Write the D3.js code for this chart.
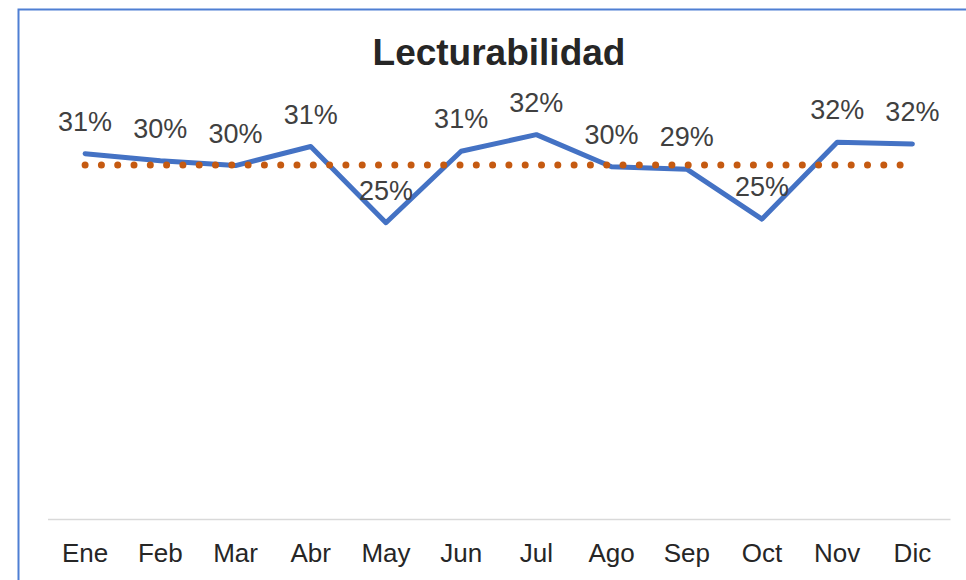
<!DOCTYPE html>
<html lang="es">
<head>
<meta charset="utf-8">
<title>Lecturabilidad</title>
<script src="https://cdn.jsdelivr.net/npm/d3@7"></script>
<style>
    html, body { margin: 0; padding: 0; background: #fff; }
    #chart { width: 966px; height: 580px; overflow: hidden; }
    text { font-family: Arial, "Liberation Sans", sans-serif; }
</style>
</head>
<body>
<div id="chart"></div>
<script>
// Chart data
const months = ['Ene', 'Feb', 'Mar', 'Abr', 'May', 'Jun', 'Jul', 'Ago', 'Sep', 'Oct', 'Nov', 'Dic'];
const readability = [0.307, 0.301, 0.297, 0.313, 0.249, 0.309, 0.323, 0.296, 0.294, 0.252, 0.3165, 0.3152];
const average = [0.2975, 0.2975, 0.2975, 0.2975, 0.2975, 0.2975, 0.2975, 0.2975, 0.2975, 0.2975, 0.2975, 0.2975];
const yDomain = [0, 0.35];

const width = 966;
const height = 580;
const margin = { top: 102.5, right: 16, bottom: 61, left: 47.5 };

const svg = d3.select('#chart')
    .append('svg')
    .attr('width', width)
    .attr('height', height)
    .attr('role', 'img')
    .attr('aria-label', 'Lecturabilidad');

// outer chart frame (only top and left edges visible in the crop)
svg.append('rect')
    .attr('x', 18.5)
    .attr('y', 9.5)
    .attr('width', 980)
    .attr('height', 620)
    .attr('fill', '#fff')
    .attr('stroke', '#4f7fd3')
    .attr('stroke-width', 2);

svg.append('text')
    .attr('x', 499)
    .attr('y', 65)
    .attr('text-anchor', 'middle')
    .attr('font-size', 37)
    .attr('font-weight', 'bold')
    .attr('fill', '#262626')
    .text('Lecturabilidad');

const x = d3.scaleBand()
    .domain(months)
    .range([margin.left, width - margin.right])
    .padding(0);

const y = d3.scaleLinear()
    .domain(yDomain)
    .range([height - margin.bottom, margin.top]);

const cx = (d, i) => x(months[i]) + x.bandwidth() / 2;

// category axis
const xAxis = svg.append('g')
    .attr('transform', `translate(0,${y(0)})`)
    .call(d3.axisBottom(x).tickSize(0).tickPadding(0));

xAxis.select('.domain')
    .attr('stroke', '#d9d9d9')
    .attr('stroke-width', 1.5);

xAxis.selectAll('text')
    .attr('dy', null)
    .attr('y', 43)
    .attr('font-size', 26)
    .attr('font-family', 'Arial, "Liberation Sans", sans-serif')
    .attr('fill', '#262626');

const line = d3.line()
    .x(cx)
    .y(d => y(d));

svg.append('path')
    .datum(readability)
    .attr('fill', 'none')
    .attr('stroke', '#4472c4')
    .attr('stroke-width', 5)
    .attr('stroke-linejoin', 'round')
    .attr('stroke-linecap', 'round')
    .attr('d', line);

// dotted average line sits above the series
svg.append('path')
    .datum(average)
    .attr('fill', 'none')
    .attr('stroke', '#c55a11')
    .attr('stroke-width', 7)
    .attr('stroke-linecap', 'round')
    .attr('stroke-dasharray', '0 16.3')
    .attr('d', line);

// data labels above each point
svg.append('g')
    .selectAll('text')
    .data(readability)
    .join('text')
    .attr('x', cx)
    .attr('y', d => y(d) - 23)
    .attr('text-anchor', 'middle')
    .attr('font-size', 27)
    .attr('fill', '#404040')
    .text(d => d3.format('.0%')(d));
</script>
</body>
</html>
